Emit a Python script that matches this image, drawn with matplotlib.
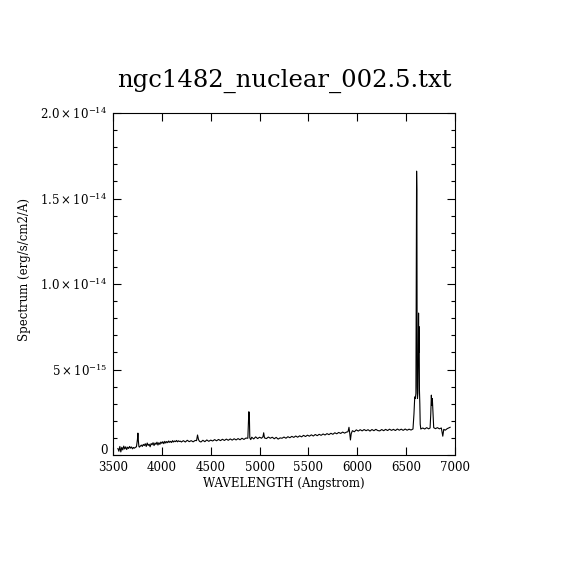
import matplotlib
matplotlib.use("Agg")
import matplotlib.pyplot as plt
from matplotlib.ticker import FixedLocator, MultipleLocator
from matplotlib.transforms import ScaledTranslation

# spectrum samples, flux in units of 1e-15 erg/s/cm2/A
wave_blue = [3550, 3560, 3570, 3580, 3590, 3600, 3610, 3620, 3630, 3640,
             3650, 3660, 3670, 3680, 3690, 3700, 3710, 3720, 3730, 3740,
             3750, 3755, 3760, 3765, 3770, 3780, 3790, 3800, 3810, 3820,
             3830, 3840, 3850, 3860, 3870, 3880, 3890, 3900, 3910, 3920,
             3930, 3940, 3950, 3960, 3970, 3980, 3990, 4000, 4010, 4020,
             4030, 4040, 4050, 4060, 4070, 4080, 4090, 4100, 4110, 4120,
             4130, 4140, 4150, 4160, 4170, 4180, 4190, 4200]
flux_blue = [0.38, 0.22, 0.50, 0.18, 0.45, 0.30, 0.52, 0.35, 0.48, 0.32,
             0.46, 0.38, 0.50, 0.40, 0.47, 0.36, 0.44, 0.40, 0.45, 0.48,
             0.90, 1.28, 0.80, 0.50, 0.46, 0.52, 0.58, 0.50, 0.62, 0.55,
             0.66, 0.50, 0.70, 0.56, 0.63, 0.48, 0.67, 0.60, 0.72, 0.55,
             0.70, 0.62, 0.75, 0.58, 0.72, 0.62, 0.76, 0.68, 0.78, 0.66,
             0.80, 0.70, 0.79, 0.72, 0.82, 0.74, 0.80, 0.73, 0.84, 0.76,
             0.82, 0.78, 0.85, 0.77, 0.83, 0.79, 0.81, 0.76]

wave_mid = [4220, 4240, 4260, 4280, 4300, 4320, 4340, 4355, 4365, 4375,
            4385, 4400, 4420, 4440, 4460, 4480, 4500, 4520, 4540, 4560,
            4580, 4600, 4620, 4640, 4660, 4680, 4700, 4720, 4740, 4760,
            4780, 4800, 4820, 4840, 4860, 4880, 4890, 4895, 4900, 4910,
            4920, 4940, 4960, 4980, 5000, 5020, 5035, 5042, 5050, 5070,
            5090, 5110, 5130, 5150, 5170, 5190, 5210, 5230, 5250, 5270,
            5290, 5310, 5330, 5350, 5370, 5390, 5410, 5430, 5450, 5470,
            5490, 5510, 5530, 5550, 5570, 5590, 5610, 5630, 5650, 5670,
            5690, 5710, 5730, 5750, 5770, 5790, 5810, 5830, 5850, 5870,
            5890, 5905, 5915, 5922, 5930, 5938, 5950, 5970, 5990]
flux_mid = [0.84, 0.76, 0.86, 0.78, 0.84, 0.77, 0.85, 0.84, 1.17, 0.90,
            0.80, 0.76, 0.86, 0.78, 0.88, 0.80, 0.87, 0.82, 0.90, 0.83,
            0.91, 0.84, 0.92, 0.85, 0.93, 0.86, 0.94, 0.87, 0.95, 0.88,
            0.96, 0.89, 0.98, 0.91, 0.99, 0.98, 2.53, 2.45, 1.00, 0.90,
            1.04, 0.94, 1.06, 0.96, 1.04, 0.98, 1.07, 1.30, 1.00, 0.96,
            1.05, 0.98, 1.04, 0.95, 1.03, 0.93, 1.00, 0.98, 1.05, 0.98,
            1.07, 1.01, 1.09, 1.03, 1.11, 1.04, 1.12, 1.06, 1.15, 1.08,
            1.16, 1.10, 1.18, 1.11, 1.20, 1.13, 1.21, 1.15, 1.23, 1.17,
            1.25, 1.19, 1.27, 1.21, 1.30, 1.24, 1.32, 1.26, 1.34, 1.28,
            1.34, 1.36, 1.62, 1.30, 0.88, 1.25, 1.42, 1.36, 1.47]

wave_red = [6010, 6030, 6050, 6070, 6090, 6110, 6130, 6150, 6170, 6190,
            6210, 6230, 6250, 6270, 6290, 6310, 6330, 6350, 6370, 6390,
            6410, 6430, 6450, 6470, 6490, 6510, 6530, 6550, 6570, 6580,
            6588, 6594, 6600, 6604, 6607, 6610, 6613, 6616, 6620, 6624,
            6627, 6630, 6633, 6636, 6640, 6644, 6650, 6670, 6690, 6710,
            6730, 6745, 6752, 6758, 6763, 6768, 6772, 6777, 6782, 6800,
            6820, 6840, 6860, 6875, 6885, 6900, 6920, 6935, 6950]
flux_red = [1.40, 1.48, 1.41, 1.49, 1.42, 1.48, 1.40, 1.49, 1.42, 1.50,
            1.43, 1.41, 1.49, 1.42, 1.50, 1.43, 1.51, 1.44, 1.50, 1.43,
            1.52, 1.45, 1.51, 1.44, 1.52, 1.45, 1.51, 1.46, 1.52, 2.40,
            3.40, 3.30, 3.60, 12.0, 16.6, 15.5, 4.00, 3.30, 3.60, 5.50,
            8.30, 6.00, 7.50, 3.80, 3.00, 1.80, 1.52, 1.58, 1.52, 1.60,
            1.53, 1.58, 2.40, 3.50, 2.90, 3.30, 2.80, 2.20, 1.60, 1.54,
            1.60, 1.53, 1.58, 1.10, 1.50, 1.45, 1.54, 1.58, 1.62]

y_ticks = [0, 5, 10, 15, 20]
y_tick_labels = ["0", r"$5\times10^{-15}$", r"$1.0\times10^{-14}$",
                 r"$1.5\times10^{-14}$", r"$2.0\times10^{-14}$"]
x_ticks = [3500, 4000, 4500, 5000, 5500, 6000, 6500, 7000]

plt.rcParams["font.family"] = ["DejaVu Serif"]
plt.rcParams["mathtext.fontset"] = "dejavuserif"

wave = wave_blue + wave_mid + wave_red
flux = flux_blue + flux_mid + flux_red

fig = plt.figure(figsize=(5.7, 5.7), dpi=100)
ax = fig.add_axes([113 / 570, 1 - 455 / 570, 342 / 570, 342 / 570])
ax.plot(wave, flux, color="black", lw=0.8)

ax.set_xlim(3500, 7000)
ax.set_ylim(0, 20)
ax.xaxis.set_major_locator(FixedLocator(x_ticks))
ax.set_xticklabels([str(t) for t in x_ticks])
ax.yaxis.set_major_locator(FixedLocator(y_ticks))
ax.yaxis.set_minor_locator(MultipleLocator(1))
ax.set_yticklabels(y_tick_labels)

ax.tick_params(which="both", direction="in", top=True, right=True,
               width=0.8, labelsize=8.5, pad=4)
ax.tick_params(which="major", length=6)
ax.tick_params(which="minor", length=3)
for s in ax.spines.values():
    s.set_linewidth(0.8)

# lift the "0" on the y axis a little so it clears "3500"
zero_lbl = ax.get_yticklabels()[0]
zero_lbl.set_transform(zero_lbl.get_transform() +
                       ScaledTranslation(0, 4 / 72, fig.dpi_scale_trans))

fig.text(284.5 / 570, 1 - 87 / 570, "ngc1482_nuclear_002.5.txt",
         ha="center", va="baseline", fontsize=17.5)
fig.text(284 / 570, 1 - 487 / 570, "WAVELENGTH (Angstrom)",
         ha="center", va="baseline", fontsize=8.5)
fig.text(25 / 570, 1 - 270 / 570, "Spectrum (erg/s/cm2/A)",
         ha="center", va="center", rotation=90, fontsize=8.5)

fig.savefig("out.png", dpi=100, facecolor="white")
